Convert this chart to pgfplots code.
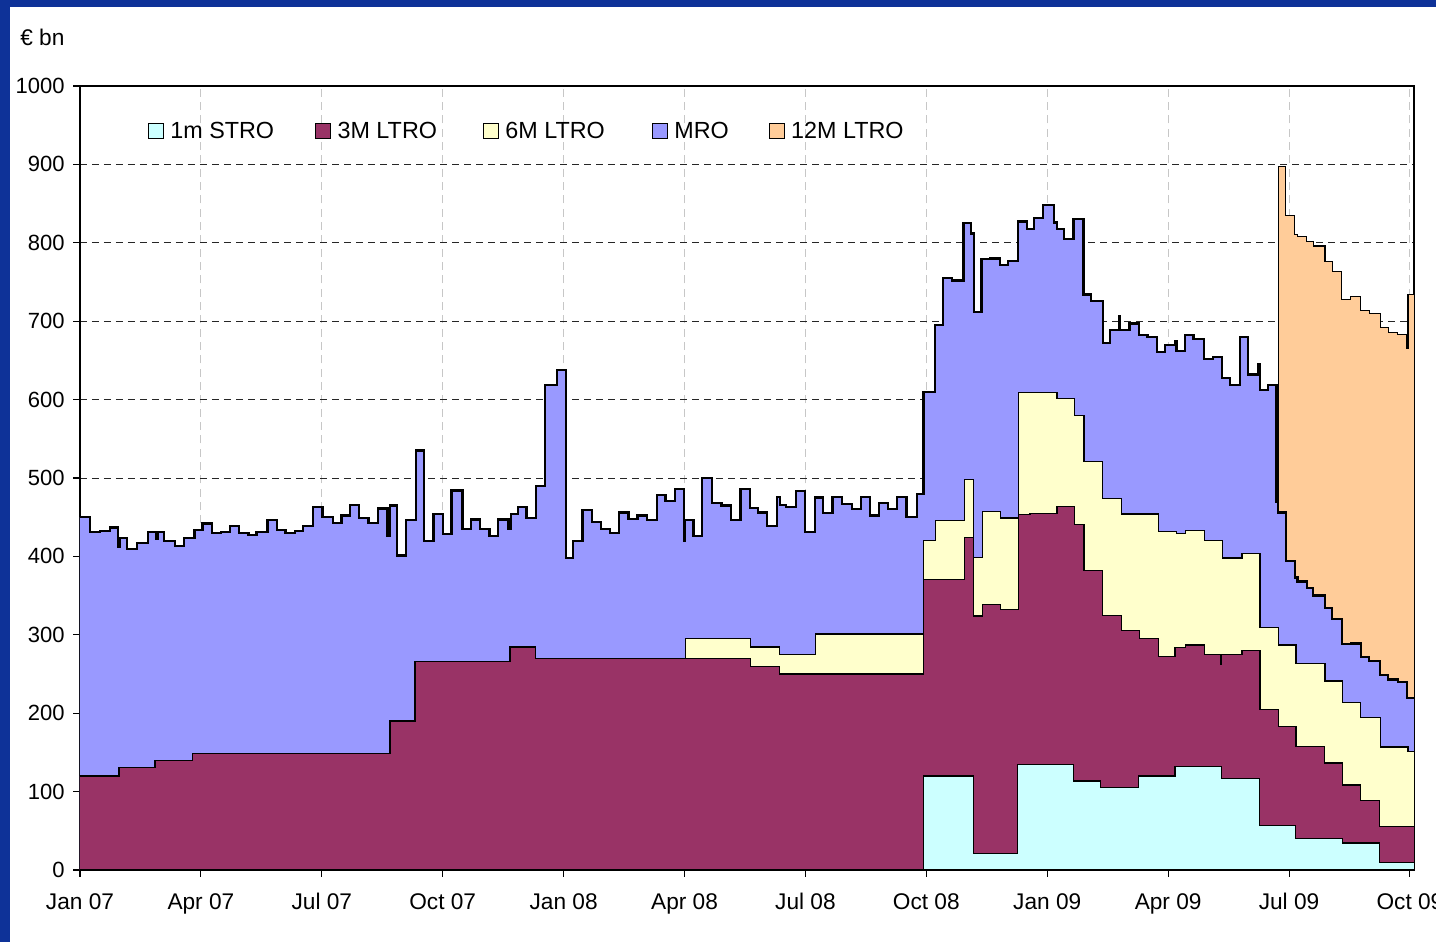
\documentclass[border=0pt]{standalone}
\usepackage{fontspec}
\setmainfont{Liberation Sans}
\usepackage{pgfplots}
\usepackage{pgfplotstable}
\pgfplotsset{compat=1.18}
\definecolor{cSTRO}{HTML}{CCFFFF}
\definecolor{cThree}{HTML}{993366}
\definecolor{cSix}{HTML}{FFFFCC}
\definecolor{cMRO}{HTML}{9999FF}
\definecolor{cTwelve}{HTML}{FFCC99}
\definecolor{frameblue}{RGB}{14,50,152}

% cumulative top of all operations (incl. 12M LTRO)
\pgfplotstableread{
x y
29.69 469
29.73 897
29.92 835
30.14 811
30.21 808
30.44 802
30.60 796
30.89 776
31.07 763
31.31 728
31.53 731
31.78 714
31.99 710
32.26 692
32.46 686
32.70 683
32.92 665
32.95 734
33.10 734
}\tabTotal

% cumulative top through MRO
\pgfplotstableread{
x y
0.00 450
0.25 431
0.50 432
0.74 437
0.95 412
0.98 423
1.16 409
1.42 417
1.68 431
1.89 422
1.92 431
2.09 420
2.36 413
2.58 423
2.84 434
3.04 442
3.27 430
3.50 431
3.72 439
3.95 430
4.18 427
4.38 431
4.65 446
4.88 434
5.10 430
5.33 432
5.54 439
5.79 463
6.02 450
6.27 443
6.49 452
6.70 466
6.93 449
7.16 443
7.39 461
7.63 426
7.69 465
7.86 401
8.09 446
8.34 535
8.54 420
8.77 454
9.01 429
9.22 484
9.49 435
9.70 447
9.93 435
10.16 426
10.38 447
10.63 435
10.69 454
10.86 463
11.08 449
11.32 490
11.54 619
11.83 638
12.06 398
12.24 420
12.47 459
12.71 444
12.93 435
13.15 430
13.37 456
13.61 448
13.83 452
14.06 446
14.31 478
14.53 471
14.76 486
14.99 420
15.01 446
15.22 426
15.44 500
15.68 468
15.92 465
16.15 446
16.39 486
16.63 462
16.83 456
17.05 439
17.30 476
17.37 466
17.52 463
17.77 483
17.99 431
18.24 475
18.44 455
18.67 476
18.90 467
19.15 460
19.37 476
19.60 452
19.82 468
20.04 460
20.28 476
20.51 450
20.76 480
20.93 610
21.22 695
21.42 755
21.63 752
21.92 825
22.10 812
22.19 712
22.37 779
22.58 780
22.83 772
23.03 777
23.28 827
23.49 818
23.68 832
23.90 848
24.17 826
24.24 818
24.42 805
24.65 830
24.90 734
25.09 726
25.38 672
25.56 689
25.79 706
25.81 689
26.04 697
26.28 682
26.49 680
26.73 661
26.93 670
27.17 675
27.21 662
27.42 682
27.63 677
27.89 652
28.11 654
28.33 628
28.54 619
28.78 680
28.99 632
29.24 645
29.28 612
29.47 619
29.69 469
29.73 456
29.92 394
30.14 373
30.21 368
30.44 360
30.60 350
30.89 334
31.07 320
31.31 288
31.53 289
31.78 272
31.99 267
32.26 249
32.46 243
32.70 240
32.92 219.5
33.10 219.5
}\tabMRO

% cumulative top through 6M LTRO
\pgfplotstableread{
x y
14.99 269.5
15.03 295
16.63 284.5
17.35 275
18.24 301
20.93 420
21.23 446
21.94 498
22.18 399
22.40 457
22.85 449
23.28 609
24.24 601
24.67 580
24.91 521
25.38 474
25.85 454
26.76 432
27.21 429
27.43 433
27.91 420
28.34 398
28.83 404
29.28 309.5
29.73 287
30.17 263
30.89 241
31.33 214
31.78 195
32.26 157
32.95 151.5
33.10 151.5
}\tabSix

% cumulative top through 3M LTRO
\pgfplotstableread{
x y
0.00 120
0.97 130.5
1.86 139.5
2.80 149
7.69 190
8.31 265.5
10.67 284.5
11.30 269.5
16.63 260
17.35 250
20.93 370.5
21.94 424
22.18 324
22.40 339
22.85 332.5
23.28 453
23.57 455
24.24 463.5
24.67 441
24.91 382
25.38 325
25.85 305
26.29 295.5
26.76 272
27.17 284
27.43 287
27.91 274.5
28.30 262
28.33 274.5
28.83 279.5
29.28 204.5
29.73 183.5
30.17 157.5
30.88 136.5
31.33 108.5
31.78 89
32.24 55
33.10 55
}\tabThree

% 1m STRO
\pgfplotstableread{
x y
20.91 0
20.93 120
22.18 21
23.26 134.5
24.65 113.5
25.33 105
26.26 120
27.17 132
28.33 117
29.26 57
30.15 40
31.33 34.5
32.24 10
33.10 10
}\tabSTRO

\begin{document}
\begin{tikzpicture}
\useasboundingbox (0,0) rectangle (1077pt,706.5pt);
\fill[white] (0,0) rectangle (1077pt,706.5pt);
\fill[frameblue] (0,701.25pt) rectangle (1077pt,706.5pt);
\fill[frameblue] (0,0) rectangle (7.5pt,706.5pt);
\node[anchor=west, font=\fontsize{17}{20}\selectfont, inner sep=0pt] at (15pt,678.75pt) {€ bn};
\begin{axis}[
  at={(60pt,54pt)}, anchor=south west,
  width=1000.5pt, height=588pt, scale only axis,
  xmin=0, xmax=33.1, ymin=0, ymax=1000,
  xtick={0,3,...,33},
  xticklabels={Jan 07,Apr 07,Jul 07,Oct 07,Jan 08,Apr 08,Jul 08,Oct 08,Jan 09,Apr 09,Jul 09,Oct 09},
  ytick={0,100,...,1000},
  /pgf/number format/assume math mode=true,
  /pgf/number format/1000 sep={},
  tick pos=left, tick align=outside, major tick length=5pt,
  tick style={black, line width=0.8pt},
  xmajorgrids, ymajorgrids,
  x grid style={black!22, dash pattern=on 6pt off 4pt, line width=0.8pt},
  y grid style={black!85, dash pattern=on 5.5pt off 3.5pt, line width=0.7pt},
  axis line style={black, line width=0.8pt},
  xticklabel style={font=\fontsize{17}{20}\selectfont, yshift=-9pt},
  yticklabel style={font=\fontsize{16.5}{20}\selectfont, xshift=-3pt},
  no markers,
  legend columns=5,
  legend image code/.code={\draw[#1, draw=black, line width=0.6pt] (0pt,-5.5pt) rectangle (11pt,5.5pt);},
  legend style={draw=none, fill=none, inner sep=0pt, at={(0.051,0.9426)}, anchor=west,
    font=\fontsize{17.5}{20}\selectfont,
    /tikz/every odd column/.append style={column sep=5pt},
    /tikz/column 2/.append style={column sep=31pt},
    /tikz/column 4/.append style={column sep=34.75pt},
    /tikz/column 6/.append style={column sep=35.5pt},
    /tikz/column 8/.append style={column sep=30.25pt},
    nodes={inner sep=0pt}},
]
% fills, painted from the top of the stack downwards
\addplot[const plot, fill=cTwelve, draw=none, forget plot] table {\tabTotal} \closedcycle;
\addplot[const plot, fill=cMRO, draw=none, forget plot] table {\tabMRO} \closedcycle;
\addplot[const plot, fill=cSix, draw=none, forget plot] table {\tabSix} \closedcycle;
\addplot[const plot, fill=cThree, draw=none, forget plot] table {\tabThree} \closedcycle;
\addplot[const plot, fill=cSTRO, draw=none, forget plot] table {\tabSTRO} \closedcycle;
% outlines
\addplot[const plot, black, line width=0.9pt, forget plot] table {\tabSTRO};
\addplot[const plot, black, line width=0.9pt, forget plot] table {\tabThree};
\addplot[const plot, black, line width=0.9pt, forget plot] table {\tabSix};
\addplot[const plot, black, line width=0.9pt, forget plot] table {\tabTotal};
\addplot[const plot, black, line width=1.7pt, forget plot] table {\tabMRO};
\draw[black, line width=1.6pt] (axis cs:0,0) -- (axis cs:33.1,0);
% legend
\addlegendimage{fill=cSTRO}
\addlegendentry{1m STRO}
\addlegendimage{fill=cThree}
\addlegendentry{3M LTRO}
\addlegendimage{fill=cSix}
\addlegendentry{6M LTRO}
\addlegendimage{fill=cMRO}
\addlegendentry{MRO}
\addlegendimage{fill=cTwelve}
\addlegendentry{12M LTRO}
\end{axis}
\end{tikzpicture}
\end{document}
